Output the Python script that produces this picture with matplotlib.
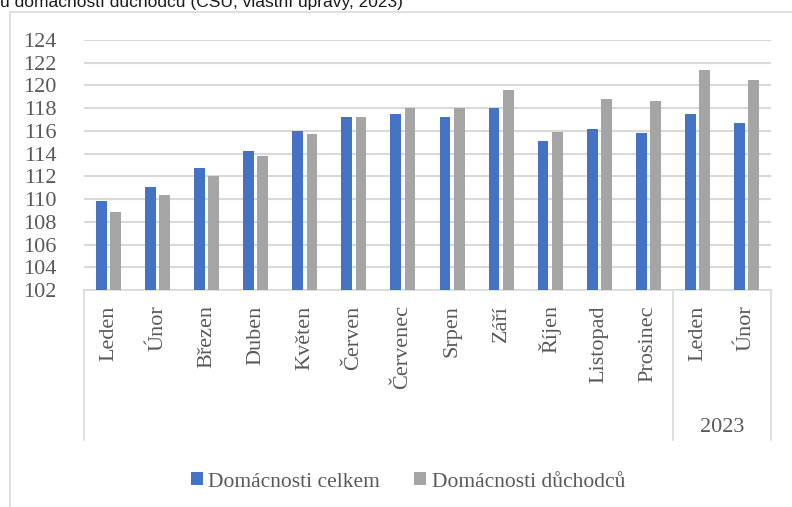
import matplotlib
matplotlib.use("Agg")
import matplotlib.pyplot as plt
from matplotlib.patches import Rectangle, Patch
import numpy as np

# data
mesice = ["Leden", "Únor", "Březen", "Duben", "Květen", "Červen", "Červenec",
          "Srpen", "Září", "Říjen", "Listopad", "Prosinec", "Leden", "Únor"]
celkem = [109.8, 111.1, 112.7, 114.2, 116.0, 117.2, 117.5,
          117.2, 118.0, 115.1, 116.2, 115.8, 117.5, 116.7]
duchodci = [108.9, 110.4, 112.0, 113.8, 115.7, 117.2, 118.0,
            118.0, 119.6, 115.9, 118.8, 118.6, 121.4, 120.5]
nazvy = ["Domácnosti celkem", "Domácnosti důchodců"]
rok_skupina = "2023"
titulek = "u domácností důchodců (ČSÚ, vlastní úpravy, 2023)"

modra = "#4472C4"
seda = "#A5A5A5"
mrizka = "#D9D9D9"
text_barva = "#595959"

plt.rcParams["font.family"] = ["Liberation Serif", "DejaVu Serif"]

W, H = 792, 507
fig = plt.figure(figsize=(W / 100, H / 100), dpi=100)

# oriznuty nadpis nahore (v predloze je videt jen spodni cast)
fig.text(0.0, 1 - 7.5 / H, titulek, family=["Liberation Sans", "DejaVu Sans"],
         fontsize=12.5, color="#1a1a1a", va="baseline", ha="left")

# ramecek grafu (presahuje vpravo a dole)
fig.patches.append(Rectangle((10 / W, -0.1), 1.2, 1 - 12 / H + 0.1,
                             transform=fig.transFigure, fill=False,
                             edgecolor=mrizka, lw=1.2))

ax = fig.add_axes([84 / W, 1 - 290 / H, (771 - 84) / W, 250 / H])

x = np.arange(len(mesice))
sirka = 0.22
posun = 0.145
ax.bar(x - posun, np.array(celkem) - 102, sirka, bottom=102, color=modra, zorder=3)
ax.bar(x + posun, np.array(duchodci) - 102, sirka, bottom=102, color=seda, zorder=3)

ax.set_ylim(102, 124)
ax.set_xlim(-0.5, len(mesice) - 0.5)
ax.set_yticks(np.arange(102, 125, 2))
ax.yaxis.grid(True, color=mrizka, lw=1.5, zorder=0)
ax.set_axisbelow(True)

for s in ["top", "right", "left"]:
    ax.spines[s].set_visible(False)
ax.spines["bottom"].set_color(mrizka)
ax.spines["bottom"].set_linewidth(1.2)

ax.tick_params(axis="y", length=0, pad=20, labelsize=16, labelcolor=text_barva)
ax.set_xticks(x)
ax.set_xticklabels(mesice, rotation=90, va="top", ha="center")
ax.tick_params(axis="x", length=0, pad=11, labelsize=16, labelcolor=text_barva)

# svisle cary viceurovnove osy
tr = ax.get_xaxis_transform()
for xp in [-0.5, 11.5, 13.5]:
    ax.plot([xp, xp], [0, -0.6], transform=tr, color=mrizka, lw=1.2, clip_on=False)
ax.text(12.5, -0.548, rok_skupina, transform=tr, ha="center", va="center",
        fontsize=16, color=text_barva)

ruce = [Patch(facecolor=modra), Patch(facecolor=seda)]
fig.legend(ruce, nazvy, loc="center", bbox_to_anchor=(0.515, 1 - 482 / H),
           ncol=2, frameon=False, fontsize=15.5, labelcolor=text_barva,
           handlelength=0.55, handleheight=0.55, handletextpad=0.25,
           columnspacing=1.6)

fig.savefig("out.png", dpi=100)
